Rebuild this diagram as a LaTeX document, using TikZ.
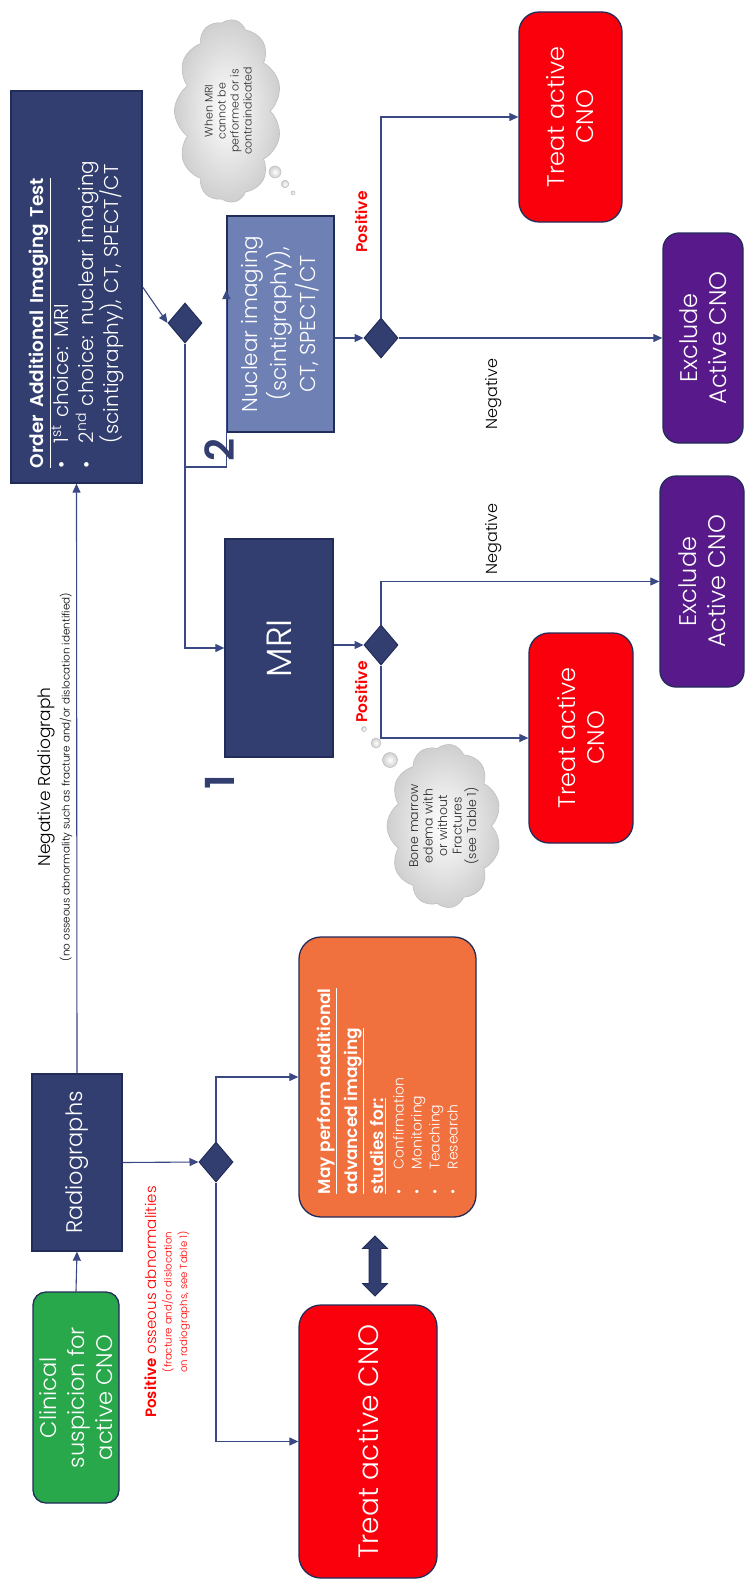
\documentclass[tikz,border=0pt]{standalone}
\usepackage{fontspec}
\setmainfont{Poppins}[UprightFont={* Light}, BoldFont={* SemiBold}]
\usetikzlibrary{shapes.geometric,shapes.symbols,shapes.arrows,arrows.meta,calc}
\definecolor{navy}{RGB}{50,62,112}
\definecolor{navyedge}{RGB}{34,44,88}
\definecolor{linec}{RGB}{58,73,132}
\definecolor{cgreen}{RGB}{40,167,75}
\definecolor{cnored}{RGB}{250,0,12}
\definecolor{orng}{RGB}{240,112,62}
\definecolor{purp}{RGB}{88,26,138}
\definecolor{nucblue}{RGB}{110,128,180}
\begin{document}
\begin{tikzpicture}[x=1pt,y=-1pt,
  box/.style={draw=navyedge, line width=1.3pt, rotate=90, text=white, align=center, inner sep=0pt},
  rbox/.style={box, rounded corners=16pt},
  flow/.style={draw=linec, line width=1.1pt, -{Triangle[length=9pt,width=8pt]}},
  dec/.style={diamond, fill=navy, draw=navyedge, line width=1pt, minimum width=34pt, minimum height=40pt, inner sep=0pt},
  lbl/.style={rotate=90, inner sep=0pt, align=center},
  cloudy/.style={cloud, cloud puffs=11, cloud puff arc=110, cloud ignores aspect, rotate=90, inner color=white, outer color=gray!38, draw=gray!50, line width=0.6pt, align=center, text=gray!35!black, inner sep=0pt},
  bub/.style={inner color=white, outer color=gray!38, draw=gray!50, line width=0.5pt}
]
\fill[white] (0,0) rectangle (745,1581);
\useasboundingbox (0,0) rectangle (745,1581);

% main boxes
\node[rbox, fill=cgreen, rounded corners=13pt, minimum width=211pt, minimum height=86pt, font=\fontsize{22.5}{28}\selectfont] (clin) at (76,1397.5) {Clinical\\suspicion for\\active CNO};
\node[box, fill=navy, minimum width=177pt, minimum height=90pt, font=\fontsize{22.5}{26}\selectfont] (radio) at (77,1162.5) {Radiographs};
\node[box, fill=navy, minimum width=392pt, minimum height=131pt, text width=362pt, inner xsep=15pt, align=left, font=\fontsize{20}{25}\selectfont] (order) at (76.5,287) {{\fontsize{18.5}{25}\selectfont\bfseries\underline{Order Additional Imaging Test}}\\
\makebox[25pt][l]{\textbullet}1\textsuperscript{st} choice: MRI\\
\makebox[25pt][l]{\textbullet}2\textsuperscript{nd} choice: nuclear imaging\\
\hspace*{25pt}(scintigraphy), CT, SPECT/CT};
\node[box, fill=navy, minimum width=218pt, minimum height=108pt, font=\fontsize{35}{40}\selectfont] (mri) at (279,648) {MRI};
\node[box, fill=nucblue, minimum width=216pt, minimum height=107pt, font=\fontsize{21.5}{29}\selectfont] (nuc) at (280.5,324) {Nuclear imaging\\(scintigraphy),\\CT, SPECT/CT};
\node[rbox, fill=cnored, rounded corners=20pt, minimum width=210pt, minimum height=103pt, font=\fontsize{24}{29}\selectfont] (red1) at (570.5,117) {Treat active\\CNO};
\node[rbox, fill=purp, minimum width=210pt, minimum height=80pt, font=\fontsize{24}{29}\selectfont] (purp1) at (703,338) {Exclude\\Active CNO};
\node[rbox, fill=cnored, rounded corners=20pt, minimum width=210pt, minimum height=104pt, font=\fontsize{24}{29}\selectfont] (red2) at (581,738) {Treat active\\CNO};
\node[rbox, fill=purp, minimum width=211pt, minimum height=84pt, font=\fontsize{24}{29}\selectfont] (purp2) at (702,581.5) {Exclude\\Active CNO};
\node[rbox, fill=orng, rounded corners=22pt, minimum width=280pt, minimum height=177pt, text width=234pt, inner xsep=23pt, align=left, font=\fontsize{14}{18}\selectfont] (orange) at (387.5,1077) {{\fontsize{17}{18}\selectfont\bfseries\underline{May perform additional}\\[5.5pt]
\underline{advanced imaging}\\[5.5pt]
\underline{studies for:}}\\[2pt]
\makebox[25pt][l]{\textbullet}Confirmation\\
\makebox[25pt][l]{\textbullet}Monitoring\\
\makebox[25pt][l]{\textbullet}Teaching\\
\makebox[25pt][l]{\textbullet}Research};
\node[rbox, fill=cnored, rounded corners=22pt, minimum width=273pt, minimum height=138pt, font=\fontsize{28}{32}\selectfont] (bigred) at (368,1441.5) {Treat active CNO};

% decisions
\node[dec] (d1) at (216,1162) {};
\node[dec] (d2) at (185,323) {};
\node[dec] (d3) at (381,338) {};
\node[dec] (d4) at (381,645) {};

% double arrow
\node[double arrow, fill=navy, draw=navyedge, line width=0.8pt, rotate=90, minimum height=60pt, inner xsep=0pt, inner ysep=5.5pt, double arrow head extend=6.5pt] (dbl) at (375,1266) {};

% connectors
\draw[flow] (clin.east) -- (radio.west);
\draw[flow] (radio.south) -- (d1.west);
\draw[flow] (d1.north) |- (orange.north);
\draw[flow] (d1.south) |- (bigred.north);
\draw[flow] (radio.east) -- (order.west);
\draw[flow] (order.south) -- (d2.west);
\draw[flow] (d2.south) |- (mri.north);
\coordinate (nucbr) at (185,467);
\coordinate (nucup) at ($(nuc.north)+(0,-34)$);
\draw[flow] (d2.south) -- (nucbr) -| (nucup);
\draw[flow] (d3.west -| nuc.south) -- (d3.west);
\draw[flow] (d3.north) |- (red1.north);
\draw[flow] (d3.east) -- (purp1.north);
\draw[flow] (d4.west -| mri.south) -- (d4.west);
\draw[flow] (d4.north) |- (purp2.north);
\draw[flow] (d4.south) |- (red2.north);

% labels
\node[lbl, text=red, font=\fontsize{15.5}{16}\selectfont\bfseries] (pos1) at (361,222) {Positive};
\node[lbl, font=\fontsize{16}{16}\selectfont] (neg1) at (494,394) {Negative};
\node[lbl, text=red, font=\fontsize{15.5}{16}\selectfont\bfseries] (pos2) at (361,692) {Positive};
\node[lbl, font=\fontsize{16}{16}\selectfont] (neg2) at (494,539) {Negative};
\node[lbl, text=red, font=\fontsize{10.2}{15.5}\selectfont] (posrad) at (167,1302) {{\fontsize{15}{15.5}\selectfont\textbf{Positive} osseous abnormalities}\\(fracture and/or dislocation\\on radiographs, see Table 1)};
\node[lbl, font=\fontsize{10.4}{19}\selectfont] (negrad) at (55,777) {{\fontsize{17}{19}\selectfont Negative Radiograph}\\(no osseous abnormality such as fracture and/or dislocation identified)};

% clouds
\node[cloudy, minimum width=183pt, minimum height=107pt, font=\fontsize{11}{13}\selectfont] (cloud1) at (228,111) {When MRI\\cannot be\\performed or is\\contraindicated};
\shade[bub] (275,172) circle (6pt);
\shade[bub] (285,184) circle (3.8pt);
\shade[bub] (293,193) circle (2pt);
\node[cloudy, minimum width=164pt, minimum height=114pt, font=\fontsize{12.5}{14.5}\selectfont] (cloud2) at (444,826) {Bone marrow\\edema with\\or without\\Fractures\\(see Table 1)};
\shade[bub] (390,760) circle (7.5pt);
\shade[bub] (376,743) circle (5pt);
\shade[bub] (364,729) circle (2.5pt);

% number badges
\node[lbl, text=navy, font=\fontsize{40}{40}\selectfont\bfseries] (two) at (220,450) {2};
\node[lbl, text=navy, font=\fontsize{40}{40}\selectfont\bfseries] (one) at (220,782) {1};
\end{tikzpicture}
\end{document}
